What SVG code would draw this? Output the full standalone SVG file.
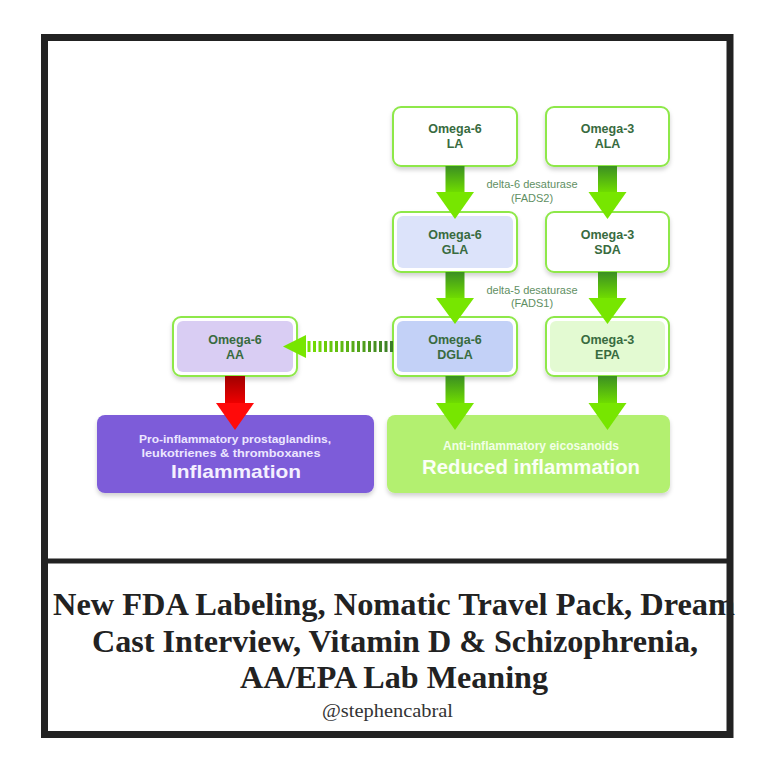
<svg xmlns="http://www.w3.org/2000/svg" width="768" height="768" viewBox="0 0 768 768">
<defs>
<style>
.box{stroke:#8ee84a;stroke-width:2}
.lbl{font-family:"Liberation Sans",Arial,sans-serif;font-weight:700;font-size:12.5px;fill:#386b40;text-anchor:middle}
.enz{font-family:"Liberation Sans",Arial,sans-serif;font-size:11px;fill:#5f8f63;text-anchor:middle}
.big{font-family:"Liberation Sans",Arial,sans-serif;font-weight:700;text-anchor:middle}
.title{font-family:"Liberation Serif","Times New Roman",serif;font-weight:700;font-size:32px;fill:#222}
.ga{fill:#77e600}
.ra{fill:#ff0a0a}
</style>
<filter id="sh" x="-10%" y="-10%" width="120%" height="130%">
<feDropShadow dx="0" dy="3" stdDeviation="2" flood-color="#000" flood-opacity="0.18"/>
</filter>
<linearGradient id="gs" x1="0" y1="0" x2="0" y2="1">
<stop offset="0" stop-color="#3b8f22"/>
<stop offset="1" stop-color="#6fdc00"/>
</linearGradient>
<linearGradient id="rs" x1="0" y1="0" x2="0" y2="1">
<stop offset="0" stop-color="#a00000"/>
<stop offset="1" stop-color="#ee0000"/>
</linearGradient>
<linearGradient id="ds" gradientUnits="userSpaceOnUse" x1="393" y1="0" x2="305" y2="0">
<stop offset="0" stop-color="#3a7a2a"/>
<stop offset="1" stop-color="#7ae600"/>
</linearGradient>
</defs>
<rect width="768" height="768" fill="#fff"/>

<g id="node-la"><rect class="box" x="393" y="107" width="124" height="59" rx="8" fill="#fff" filter="url(#sh)"/><text class="lbl" x="455" y="133">Omega-6</text><text class="lbl" x="455" y="148">LA</text></g>
<g id="node-ala"><rect class="box" x="546" y="107" width="123" height="59" rx="8" fill="#fff" filter="url(#sh)"/><text class="lbl" x="607.5" y="133">Omega-3</text><text class="lbl" x="607.5" y="148">ALA</text></g>
<g id="node-gla"><rect class="box" x="393" y="212" width="124" height="60" rx="8" fill="#fff" filter="url(#sh)"/><rect x="397" y="216" width="116" height="52" rx="6" fill="#dce3fa"/><text class="lbl" x="455" y="239">Omega-6</text><text class="lbl" x="455" y="254">GLA</text></g>
<g id="node-sda"><rect class="box" x="546" y="212" width="123" height="60" rx="8" fill="#fff" filter="url(#sh)"/><text class="lbl" x="607.5" y="239">Omega-3</text><text class="lbl" x="607.5" y="254">SDA</text></g>
<g id="node-dgla"><rect class="box" x="393" y="317" width="124" height="59" rx="8" fill="#fff" filter="url(#sh)"/><rect x="397" y="321" width="116" height="51" rx="6" fill="#c3d1f7"/><text class="lbl" x="455" y="344">Omega-6</text><text class="lbl" x="455" y="359">DGLA</text></g>
<g id="node-epa"><rect class="box" x="546" y="317" width="123" height="59" rx="8" fill="#fff" filter="url(#sh)"/><rect x="550" y="321" width="115" height="51" rx="6" fill="#e3fad2"/><text class="lbl" x="607.5" y="344">Omega-3</text><text class="lbl" x="607.5" y="359">EPA</text></g>
<g id="node-aa"><rect class="box" x="173" y="317" width="124" height="59" rx="8" fill="#fff" filter="url(#sh)"/><rect x="177" y="321" width="116" height="51" rx="6" fill="#d9cdf3"/><text class="lbl" x="235" y="344">Omega-6</text><text class="lbl" x="235" y="359">AA</text></g>

<g id="node-pro"><rect x="97" y="415" width="277" height="78" rx="8" fill="#7d5cd9" filter="url(#sh)"/>
<text class="big" x="235" y="443" font-size="11.5" fill="#ece6ff" textLength="192" lengthAdjust="spacingAndGlyphs">Pro-inflammatory prostaglandins,</text>
<text class="big" x="231" y="456.5" font-size="11.5" fill="#ece6ff" textLength="179" lengthAdjust="spacingAndGlyphs">leukotrienes &amp; thromboxanes</text>
<text class="big" x="236" y="478" font-size="19" fill="#f4f0ff" textLength="130" lengthAdjust="spacingAndGlyphs">Inflammation</text></g>
<g id="node-anti"><rect x="387" y="415" width="283" height="78" rx="8" fill="#b3f070" filter="url(#sh)"/>
<text class="big" x="531" y="450" font-size="12" font-weight="400" fill="#f2ffe6" textLength="176" lengthAdjust="spacingAndGlyphs">Anti-inflammatory eicosanoids</text>
<text class="big" x="531" y="474" font-size="20" fill="#fbfff6" textLength="218" lengthAdjust="spacingAndGlyphs">Reduced inflammation</text></g>

<g id="connectors">
<g id="la-gla"><rect x="445.5" y="166" width="19" height="26" fill="url(#gs)"/><polygon class="ga" points="436,192 474,192 455,219"/></g>
<g id="ala-sda"><rect x="598" y="166" width="19" height="26" fill="url(#gs)"/><polygon class="ga" points="588.5,192 626.5,192 607.5,219"/></g>
<g id="gla-dgla"><rect x="445.5" y="272" width="19" height="26" fill="url(#gs)"/><polygon class="ga" points="436,298 474,298 455,324"/></g>
<g id="sda-epa"><rect x="598" y="272" width="19" height="26" fill="url(#gs)"/><polygon class="ga" points="588.5,298 626.5,298 607.5,324"/></g>
<g id="dgla-anti"><rect x="445.5" y="376" width="19" height="27" fill="url(#gs)"/><polygon class="ga" points="436,403 474,403 455,430"/></g>
<g id="epa-anti"><rect x="598" y="376" width="19" height="27" fill="url(#gs)"/><polygon class="ga" points="588.5,403 626.5,403 607.5,430"/></g>
<g id="aa-pro"><rect x="225" y="376" width="20" height="27" fill="url(#rs)"/><polygon class="ra" points="216,403 254,403 235,430"/></g>
<g id="dgla-aa"><line x1="393" y1="346.5" x2="305" y2="346.5" stroke="url(#ds)" stroke-width="11" stroke-dasharray="3 2.5"/><polygon class="ga" points="283,346.5 306,335 306,358"/></g>
</g>
<g id="enzyme-labels">
<text class="enz" x="532" y="188">delta-6 desaturase</text>
<text class="enz" x="532" y="202">(FADS2)</text>
<text class="enz" x="532" y="294">delta-5 desaturase</text>
<text class="enz" x="532" y="307">(FADS1)</text>
</g>

<g id="caption">
<text class="title" x="53" y="615" textLength="682" lengthAdjust="spacingAndGlyphs">New FDA Labeling, Nomatic Travel Pack, Dream</text>
<text class="title" x="92" y="652" textLength="606" lengthAdjust="spacingAndGlyphs">Cast Interview, Vitamin D &amp; Schizophrenia,</text>
<text class="title" x="240" y="688" textLength="308" lengthAdjust="spacingAndGlyphs">AA/EPA Lab Meaning</text>
<text x="322" y="717" font-family="Liberation Serif, Times New Roman, serif" font-size="19" fill="#333" textLength="131" lengthAdjust="spacingAndGlyphs">@stephencabral</text>
</g>

<g id="frame" fill="none" stroke="#222">
<rect x="44.5" y="37.5" width="685.5" height="697" stroke-width="7"/>
<line x1="44.5" y1="561" x2="730" y2="561" stroke-width="5"/>
</g>
</svg>
